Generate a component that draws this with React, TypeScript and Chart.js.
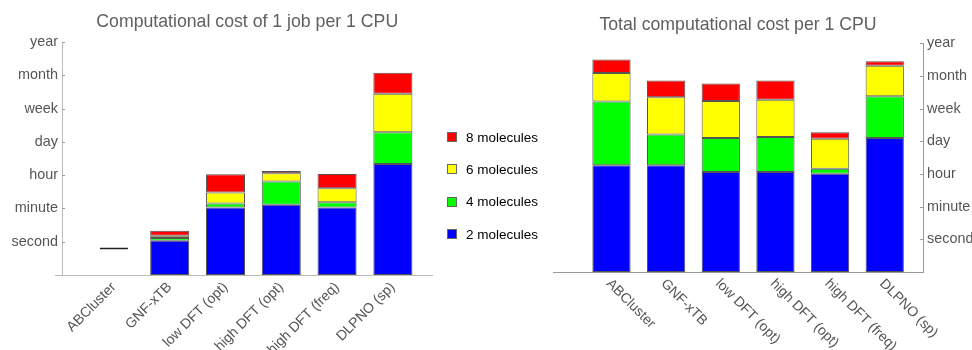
import React, { useEffect, useRef } from 'react';
import { Chart, registerables } from 'chart.js';

Chart.register(...registerables);

const categories = ['ABCluster', 'GNF-xTB', 'low DFT (opt)', 'high DFT (opt)', 'high DFT (freq)', 'DLPNO (sp)'];
const timeLabels = ['', 'second', 'minute', 'hour', 'day', 'week', 'month', 'year'];
const seriesNames = ['2 molecules', '4 molecules', '6 molecules', '8 molecules'];
const seriesColors = ['#0000ff', '#00ff00', '#ffff00', '#ff0000'];

// Computational cost of 1 job per 1 CPU (segment heights, time-axis units)
const job2 = [null, 1.03, 2.03, 2.11, 2.03, 3.34];
const job4 = [null, 0.08, 0.12, 0.70, 0.16, 0.95];
const job6 = [null, 0.07, 0.33, 0.25, 0.42, 1.16];
const job8 = [null, 0.15, 0.55, 0.07, 0.43, 0.63];
const abclusterJob = [0.8, null, null, null, null, null];

// Total computational cost per 1 CPU (segment heights, time-axis units)
const total2 = [3.27, 3.27, 3.06, 3.06, 3.01, 4.10];
const total4 = [1.95, 0.94, 1.04, 1.07, 0.15, 1.28];
const total6 = [0.87, 1.14, 1.13, 1.14, 0.92, 0.93];
const total8 = [0.41, 0.51, 0.54, 0.59, 0.20, 0.14];

const FONT = '"Liberation Sans", Arial, Helvetica, sans-serif';
const TICK_COLOR = '#555555';
const TITLE_COLOR = '#606060';

function barSets(series: (number | null)[][]) {
  return series.map((vals, k) => ({
    type: 'bar' as const,
    label: seriesNames[k],
    data: vals.map((v, i) => ({ x: i, y: v })),
    backgroundColor: seriesColors[k],
    borderColor: '#555555',
    borderWidth: 1,
    borderSkipped: false,
    barPercentage: 0.7,
    categoryPercentage: 1,
    stack: 's',
  }));
}

const inwardTicks = {
  id: 'inwardTicks',
  afterDraw(chart: any) {
    const y = chart.scales.y;
    const ctx = chart.ctx;
    const right = y.position === 'right';
    const x0 = right ? chart.chartArea.right : chart.chartArea.left;
    ctx.save();
    ctx.strokeStyle = '#999999';
    ctx.lineWidth = 1;
    y.ticks.forEach((t: any) => {
      if (t.value === 0) return;
      const py = Math.round(y.getPixelForValue(t.value)) + 0.5;
      ctx.beginPath();
      ctx.moveTo(x0, py);
      ctx.lineTo(x0 + (right ? -3 : 3), py);
      ctx.stroke();
    });
    if (!right) {
      const by = Math.round(chart.chartArea.bottom) + 0.5;
      ctx.strokeStyle = '#bbbbbb';
      ctx.beginPath();
      ctx.moveTo(x0 - 7, by);
      ctx.lineTo(x0, by);
      ctx.stroke();
    }
    ctx.restore();
  },
};

const rotatedDownLabels = {
  id: 'rotatedDownLabels',
  afterDraw(chart: any) {
    const xs = chart.scales.x;
    const ctx = chart.ctx;
    const bottom = chart.chartArea.bottom;
    ctx.save();
    ctx.font = `14px ${FONT}`;
    ctx.fillStyle = TICK_COLOR;
    ctx.textAlign = 'left';
    ctx.textBaseline = 'middle';
    categories.forEach((c, i) => {
      const px = xs.getPixelForValue(i);
      ctx.save();
      ctx.translate(px - 3, bottom + 9.5);
      ctx.rotate(Math.PI / 4);
      ctx.fillText(c, 0, 0);
      ctx.restore();
    });
    ctx.restore();
  },
};

function yScale(position: 'left' | 'right', width: number, borderColor: string) {
  return {
    type: 'linear' as const,
    position,
    min: 0,
    max: 7,
    stacked: true,
    afterBuildTicks: (s: any) => {
      s.ticks = timeLabels.map((_, i) => ({ value: i }));
    },
    afterFit: (s: any) => {
      s.width = width;
    },
    ticks: {
      autoSkip: false,
      padding: 4,
      color: TICK_COLOR,
      font: { size: 14.4, family: FONT },
      callback: (v: any) => timeLabels[v] ?? '',
    },
    grid: { display: false, drawTicks: false },
    border: { display: true, color: borderColor, width: 1 },
  };
}

function xScale(min: number, max: number, height: number, showTicks: boolean) {
  return {
    type: 'linear' as const,
    min,
    max,
    offset: false,
    afterBuildTicks: (s: any) => {
      s.ticks = categories.map((_, i) => ({ value: i }));
    },
    afterFit: (s: any) => {
      s.height = height;
    },
    ticks: {
      display: showTicks,
      autoSkip: false,
      minRotation: 45,
      maxRotation: 45,
      padding: 4,
      color: TICK_COLOR,
      font: { size: 14, family: FONT },
      callback: (v: any) => categories[v] ?? '',
    },
    grid: { display: false, drawTicks: false, offset: false },
    border: { display: true, color: showTicks ? '#bbbbbb' : '#999999', width: 1 },
  };
}

function LeftChart() {
  const ref = useRef<HTMLCanvasElement>(null);
  useEffect(() => {
    const chart = new Chart(ref.current as HTMLCanvasElement, {
      type: 'bar',
      data: {
        datasets: [
          ...barSets([job2, job4, job6, job8]),
          {
            type: 'line' as const,
            label: 'ABCluster',
            data: abclusterJob.map((v, i) => ({ x: i, y: v })),
            showLine: false,
            pointStyle: 'line',
            pointRadius: 14,
            pointBorderWidth: 1.5,
            pointBorderColor: '#222222',
            borderColor: '#222222',
            backgroundColor: '#222222',
            stack: 'line',
          } as any,
        ],
      },
      options: {
        responsive: false,
        animation: false,
        events: [],
        layout: { padding: { left: 0, right: 2, top: 0, bottom: 0 } },
        plugins: {
          legend: { display: false },
          tooltip: { enabled: false },
          title: {
            display: true,
            text: 'Computational cost of 1 job per 1 CPU',
            color: TITLE_COLOR,
            font: { size: 17.7, weight: 'normal', family: FONT },
            padding: { top: 11, bottom: 10 },
            fullSize: false,
          },
        },
        scales: {
          x: xScale(-0.93, 5.71, 75, true),
          y: yScale('left', 62, '#bbbbbb'),
        },
      } as any,
      plugins: [inwardTicks],
    });
    return () => chart.destroy();
  }, []);
  return <canvas ref={ref} width={448} height={350} style={{ width: 448, height: 350, display: 'block' }} />;
}

function RightChart() {
  const ref = useRef<HTMLCanvasElement>(null);
  useEffect(() => {
    const chart = new Chart(ref.current as HTMLCanvasElement, {
      type: 'bar',
      data: {
        datasets: barSets([total2, total4, total6, total8]),
      },
      options: {
        responsive: false,
        animation: false,
        events: [],
        layout: { padding: { left: 13, right: 0, top: 0, bottom: 0 } },
        plugins: {
          legend: { display: false },
          tooltip: { enabled: false },
          title: {
            display: true,
            text: 'Total computational cost per 1 CPU',
            color: TITLE_COLOR,
            font: { size: 17.7, weight: 'normal', family: FONT },
            padding: { top: 14, bottom: 8 },
            fullSize: false,
          },
        },
        scales: {
          x: xScale(-1.07, 5.7, 78, false),
          y: yScale('right', 49, '#999999'),
        },
      } as any,
      plugins: [inwardTicks, rotatedDownLabels],
    });
    return () => chart.destroy();
  }, []);
  return <canvas ref={ref} width={432} height={350} style={{ width: 432, height: 350, display: 'block' }} />;
}

function Legend() {
  const order = [3, 2, 1, 0];
  return (
    <div style={{ position: 'absolute', left: 447, top: 121, fontFamily: FONT, fontSize: 13.5, color: '#000' }}>
      {order.map((k) => (
        <div key={k} style={{ display: 'flex', alignItems: 'center', height: 32.3 }}>
          <span
            style={{
              display: 'inline-block',
              width: 8,
              height: 8,
              background: seriesColors[k],
              border: '1px solid #666',
              marginRight: 9,
            }}
          />
          <span>{seriesNames[k]}</span>
        </div>
      ))}
    </div>
  );
}

export default function App() {
  return (
    <div
      style={{
        position: 'fixed',
        left: 0,
        top: 0,
        width: 972,
        height: 350,
        background: '#fff',
        overflow: 'hidden',
      }}
    >
      <div style={{ position: 'absolute', left: 0, top: 0 }}>
        <LeftChart />
      </div>
      <div style={{ position: 'absolute', left: 540, top: 0 }}>
        <RightChart />
      </div>
      <Legend />
    </div>
  );
}
